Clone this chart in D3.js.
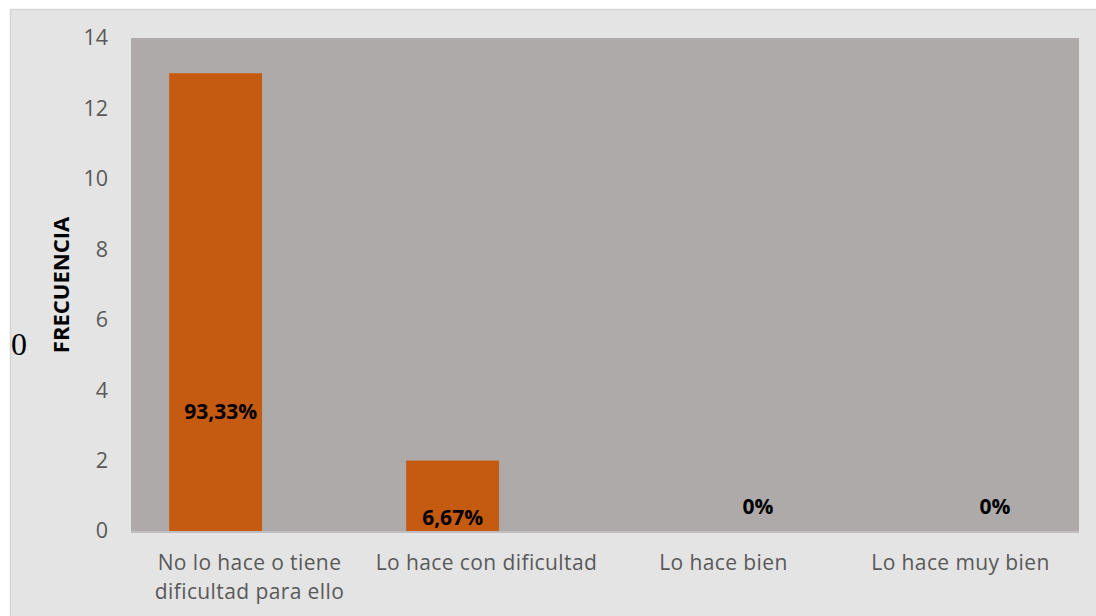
<!DOCTYPE html>
<meta charset="utf-8">
<script src="https://d3js.org/d3.v7.min.js"></script>
<style>
body { margin: 0; background: #ffffff; }
text { font-family: "Open Sans", sans-serif; }
</style>
<div id="chart"></div>
<script>
  // data
  var categories = ["No lo hace o tiene|dificultad para ello", "Lo hace con dificultad", "Lo hace bien", "Lo hace muy bien"];
  var frecuencia = [13, 2, 0, 0];
  var porcentaje = ["93,33%", "6,67%", "0%", "0%"];
  var labelLevel = [3.4, 0.38, 0.7, 0.7];   // height of each % label, in axis units
  var yTicks = [0, 2, 4, 6, 8, 10, 12, 14];

  var W = 1096, H = 616;
  var plot = {left: 131, right: 1079, top: 38, bottom: 531};

  var svg = d3.select("#chart").append("svg")
    .attr("width", W).attr("height", H);

  // outer chart area
  svg.append("rect")
    .attr("x", 10.5).attr("y", 9.5)
    .attr("width", W).attr("height", H)
    .style("fill", "#e4e4e4")
    .style("stroke", "#d6d6d6").style("stroke-width", 1.5);

  var x = d3.scaleBand()
    .domain(categories)
    .range([plot.left, plot.right]);

  // frecuencia bar and % label sit side by side inside each band
  var inner = d3.scalePoint()
    .domain(["freq", "pct"])
    .range([x.bandwidth() * 0.357, x.bandwidth() * 0.645]);
  var barW = x.bandwidth() * 0.392;

  var y = d3.scaleLinear()
    .domain([0, 14])
    .range([plot.bottom, plot.top]);

  // plot area
  svg.append("rect")
    .attr("x", plot.left).attr("y", plot.top)
    .attr("width", plot.right - plot.left).attr("height", plot.bottom - plot.top)
    .style("fill", "#aeaaa9");

  // bars
  svg.append("g")
    .selectAll("rect")
    .data(frecuencia)
    .enter()
    .append("rect")
      .attr("x", function(d, i){ return x(categories[i]) + inner("freq") - barW / 2; })
      .attr("y", function(d){ return y(d); })
      .attr("width", barW)
      .attr("height", function(d){ return y(0) - y(d); })
      .style("fill", "#c55a11");

  // bottom axis line
  svg.append("line")
    .attr("x1", plot.left).attr("x2", plot.right)
    .attr("y1", y(0) + 1).attr("y2", y(0) + 1)
    .style("stroke", "#bdbdbd").style("stroke-width", 2);

  // y axis labels
  var yAxis = d3.axisLeft(y).tickValues(yTicks).tickSize(0).tickPadding(0);
  var gy = svg.append("g")
    .attr("transform", "translate(108,0)")
    .call(yAxis);
  gy.select(".domain").remove();
  gy.selectAll("text")
    .style("font-family", "'Open Sans', sans-serif")
    .style("font-size", "21.5px")
    .style("fill", "#595959");

  // category labels
  svg.append("g")
    .selectAll("text")
    .data(categories)
    .enter()
    .append("text")
      .attr("x", function(d){ return x(d) + x.bandwidth() / 2; })
      .attr("y", 570)
      .attr("text-anchor", "middle")
      .style("font-size", "21px")
      .style("fill", "#595959")
      .style("letter-spacing", "0.4px")
      .each(function(d){
        var lines = d.split("|");
        var t = d3.select(this);
        lines.forEach(function(l, j){
          t.append("tspan")
            .attr("x", x(d) + x.bandwidth() / 2)
            .attr("dy", j === 0 ? 0 : 29)
            .text(l);
        });
      });

  // percentage labels
  svg.append("g")
    .selectAll("text")
    .data(porcentaje)
    .enter()
    .append("text")
      .attr("x", function(d, i){ return x(categories[i]) + (frecuencia[i] > 0 ? inner("freq") + 5 * (i === 0) : inner("pct")); })
      .attr("y", function(d, i){ return y(labelLevel[i]); })
      .attr("dy", "0.35em")
      .attr("text-anchor", "middle")
      .style("font-size", "21px")
      .style("font-weight", "bold")
      .style("fill", "#000000")
      .text(function(d){ return d; });

  // y axis title
  svg.append("text")
    .attr("transform", "translate(69,285) rotate(-90)")
    .attr("text-anchor", "middle")
    .style("font-size", "22px")
    .style("font-weight", "bold")
    .style("fill", "#000000")
    .text("FRECUENCIA");

  // stray "0" at the left edge
  svg.append("text")
    .attr("x", 19).attr("y", 355)
    .attr("text-anchor", "middle")
    .style("font-family", "'Liberation Serif', serif")
    .style("font-size", "32px")
    .style("fill", "#000000")
    .text("0");
</script>
